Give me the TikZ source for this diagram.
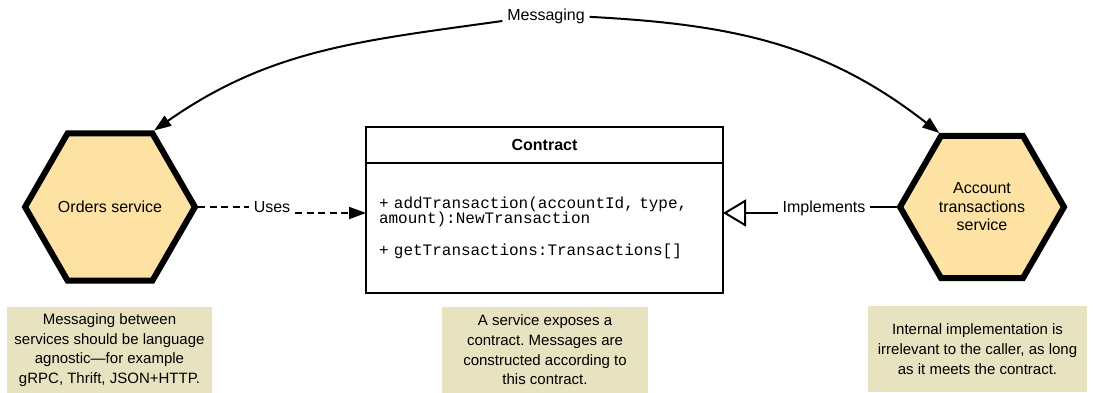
\documentclass[tikz,border=0pt]{standalone}
\usepackage{fontspec}
\setmainfont{Liberation Sans}
\setmonofont{Liberation Mono}
\usetikzlibrary{shapes.geometric, arrows.meta, positioning}
\definecolor{hexfill}{RGB}{253,226,164}
\definecolor{notefill}{RGB}{231,227,193}
\frenchspacing
\begin{document}
\begin{tikzpicture}[x=1pt, y=1pt, line width=2pt,
main/.style = {draw, line width=6pt, fill=hexfill, regular polygon, regular polygon sides=6, minimum size=164pt, inner sep=0pt, align=center, font=\fontsize{16}{18.5}\selectfont},
box/.style = {draw, minimum width=357pt, outer sep=0pt},
note/.style = {fill=notefill, align=center, minimum height=86pt, font=\fontsize{15}{19.7}\selectfont},
lbl/.style = {font=\fontsize{16}{19}\selectfont, inner sep=4pt, anchor=base},
tip/.style = {-{Triangle[length=17pt, width=12pt]}}]
\useasboundingbox (0,0) rectangle (1094,393);
\node[main] (1) at (110,186) {Orders service};
\node[main] (2) at (982,186) {Account\\transactions\\service};
\node[box, minimum height=36pt, font=\bfseries\fontsize{16}{19}\selectfont] (3) at (544.5,248) {Contract};
\node[box, minimum height=130pt, text width=331pt, align=left, font=\ttfamily\fontsize{16}{15}\selectfont] (4) [below=0pt of 3] {+ addTransaction(accountId, type,\\amount):NewTransaction\\[17pt]+ getTransactions:Transactions[]};
\node[note, minimum width=205pt] (5) at (109.5,43) {Messaging between\\services should be language\\agnostic—for example\\gRPC, Thrift, JSON+HTTP.};
\node[note, minimum width=206pt] (6) at (545,43) {A service exposes a\\contract. Messages are\\constructed according to\\this contract.};
\node[note, minimum width=219pt] (7) at (977.5,44) {Internal implementation is\\irrelevant to the caller, as long\\as it meets the contract.};
\node[lbl] (8) at (272,180) {Uses};
\node[lbl] (9) at (824,180) {Implements};
\node[lbl] (10) at (546,372) {Messaging};

\draw[dash pattern=on 7pt off 4.5pt] (1.east) -- (1.east -| 8.west);
\draw[dash pattern=on 7pt off 4.5pt, tip] (8.base east) -- (8.base east -| 4.west);
\draw (2.west) -- (2.west -| 9.east);
\draw[-{Triangle[open, length=23pt, width=27pt]}] (9.base west) -- (9.base west -| 4.east);
\draw[tip] (10.base west) to[out=188, in=35] (1.60);
\draw[tip] (10.east) to[out=-3, in=142] (2.120);
\end{tikzpicture}
\end{document}
